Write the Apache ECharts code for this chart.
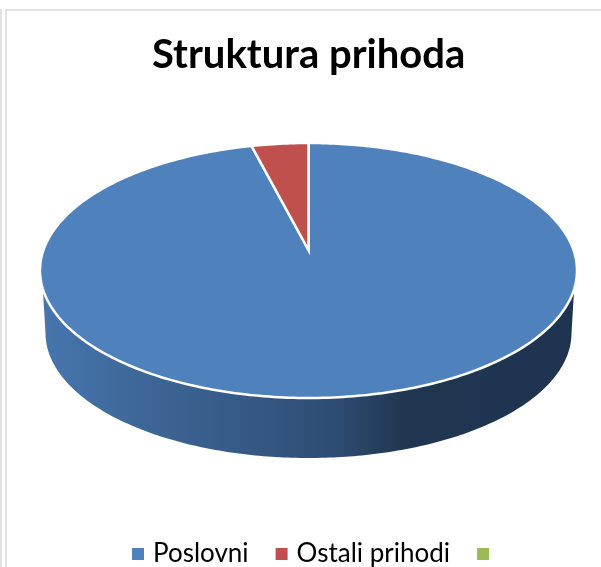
<!DOCTYPE html>
<html>
<head>
<meta charset="utf-8">
<style>html,body{margin:0;padding:0;background:#fff}#c{width:601px;height:567px}</style>
<script src="https://cdn.jsdelivr.net/npm/echarts@6/dist/echarts.min.js"></script>
</head>
<body>
<div id="c"></div>
<script>
var titleText = 'Struktura prihoda';
var categories = ['Poslovni', 'Ostali prihodi', ' '];
var values = [96, 4, 0];
var colors = ['#4f81bd', '#c0504d', '#9bbb59'];

// Tilted-disc projection: a unit circle is mapped so that its centre lands at the pie's apex.
var CX = 308.5, APEX_Y = 250, KX = 265, A = -84, C = 0.1608;
function project(theta) {
  var u = Math.sin(theta), v = Math.cos(theta), w = C * v + 1;
  return [CX + KX * u / w, (A * v + APEX_Y) / w];
}
var total = values.reduce(function (a, b) { return a + b; }, 0);
// Slices run clockwise from 12 o'clock.
var starts = [];
(function () {
  var acc = 0;
  for (var i = 0; i < values.length; i++) { starts[i] = acc; acc += values[i]; }
})();

function wallPoints() {
  var i, t, top = [], low = [];
  var t0 = Math.asin(18.5 / 127.5);
  for (i = 0; i <= 200; i++) {
    t = t0 + (Math.PI - 2 * t0) * i / 200;
    top.push([CX + 268.5 * Math.cos(t), 270.5 + 127.5 * Math.sin(t)]);
  }
  for (i = 0; i <= 200; i++) {
    t = Math.PI * i / 200;
    low.push([CX + 263 * Math.cos(t), 333 + 125 * Math.sin(t)]);
  }
  return top.concat(low.reverse());
}

function makeRender(idx) {
  return function (params, api) {
    var v = api.value(0);
    var children = [];
    if (idx === 0) {
      children.push({
        type: 'polygon',
        shape: { points: wallPoints() },
        style: {
          fill: {
            type: 'linear', x: 40, y: 0, x2: 577, y2: 0, global: true,
            colorStops: [
              { offset: 0, color: '#4676ae' },
              { offset: 0.2, color: '#3d6696' },
              { offset: 0.45, color: '#33547e' },
              { offset: 0.55, color: '#2e4c72' },
              { offset: 0.68, color: '#203650' },
              { offset: 1, color: '#1e3350' }
            ]
          }
        }
      });
    }
    if (v > 0) {
      var a0 = starts[idx] / total * 2 * Math.PI;
      var a1 = a0 + v / total * 2 * Math.PI;
      var pts = [[CX, APEX_Y]];
      var n = Math.max(8, Math.round(400 * v / total));
      for (var i = 0; i <= n; i++) {
        pts.push(project(a0 + (a1 - a0) * i / n));
      }
      children.push({
        type: 'polygon',
        shape: { points: pts },
        style: { fill: colors[idx], stroke: '#ffffff', lineWidth: 2.5, lineJoin: 'miter' }
      });
    }
    return { type: 'group', children: children };
  };
}

var seriesList = categories.map(function (name, i) {
  return {
    type: 'custom',
    name: name,
    coordinateSystem: 'none',
    silent: true,
    animation: false,
    itemStyle: { color: colors[i] },
    renderItem: makeRender(i),
    z: i === 0 ? 2 : 3,
    data: [[values[i]]]
  };
});

var chart = echarts.init(document.getElementById('c'), null, { renderer: 'canvas' });
chart.setOption({
  backgroundColor: '#ffffff',
  animation: false,
  title: {
    text: titleText,
    left: 152,
    top: 35,
    padding: 0,
    textStyle: { fontFamily: 'Lato', fontWeight: 'bold', fontSize: 40, color: '#000000' }
  },
  legend: {
    data: categories,
    left: 132,
    top: 541,
    padding: 0,
    itemWidth: 12,
    itemHeight: 12,
    itemGap: 27,
    icon: 'rect',
    textStyle: { fontFamily: 'Lato', fontSize: 26, color: '#000000', padding: [0, 0, 0, 4] }
  },
  graphic: [
    { type: 'rect', silent: true, z: -1, shape: { x: 5, y: 9, width: 596, height: 2 }, style: { fill: '#e2e2e2' } },
    { type: 'rect', silent: true, z: -1, shape: { x: 5, y: 9, width: 2, height: 558 }, style: { fill: '#e2e2e2' } },
    { type: 'rect', silent: true, z: -1, shape: { x: 0, y: 9, width: 2, height: 558 }, style: { fill: '#e2e2e2' } }
  ],
  series: seriesList
});
</script>
</body>
</html>
